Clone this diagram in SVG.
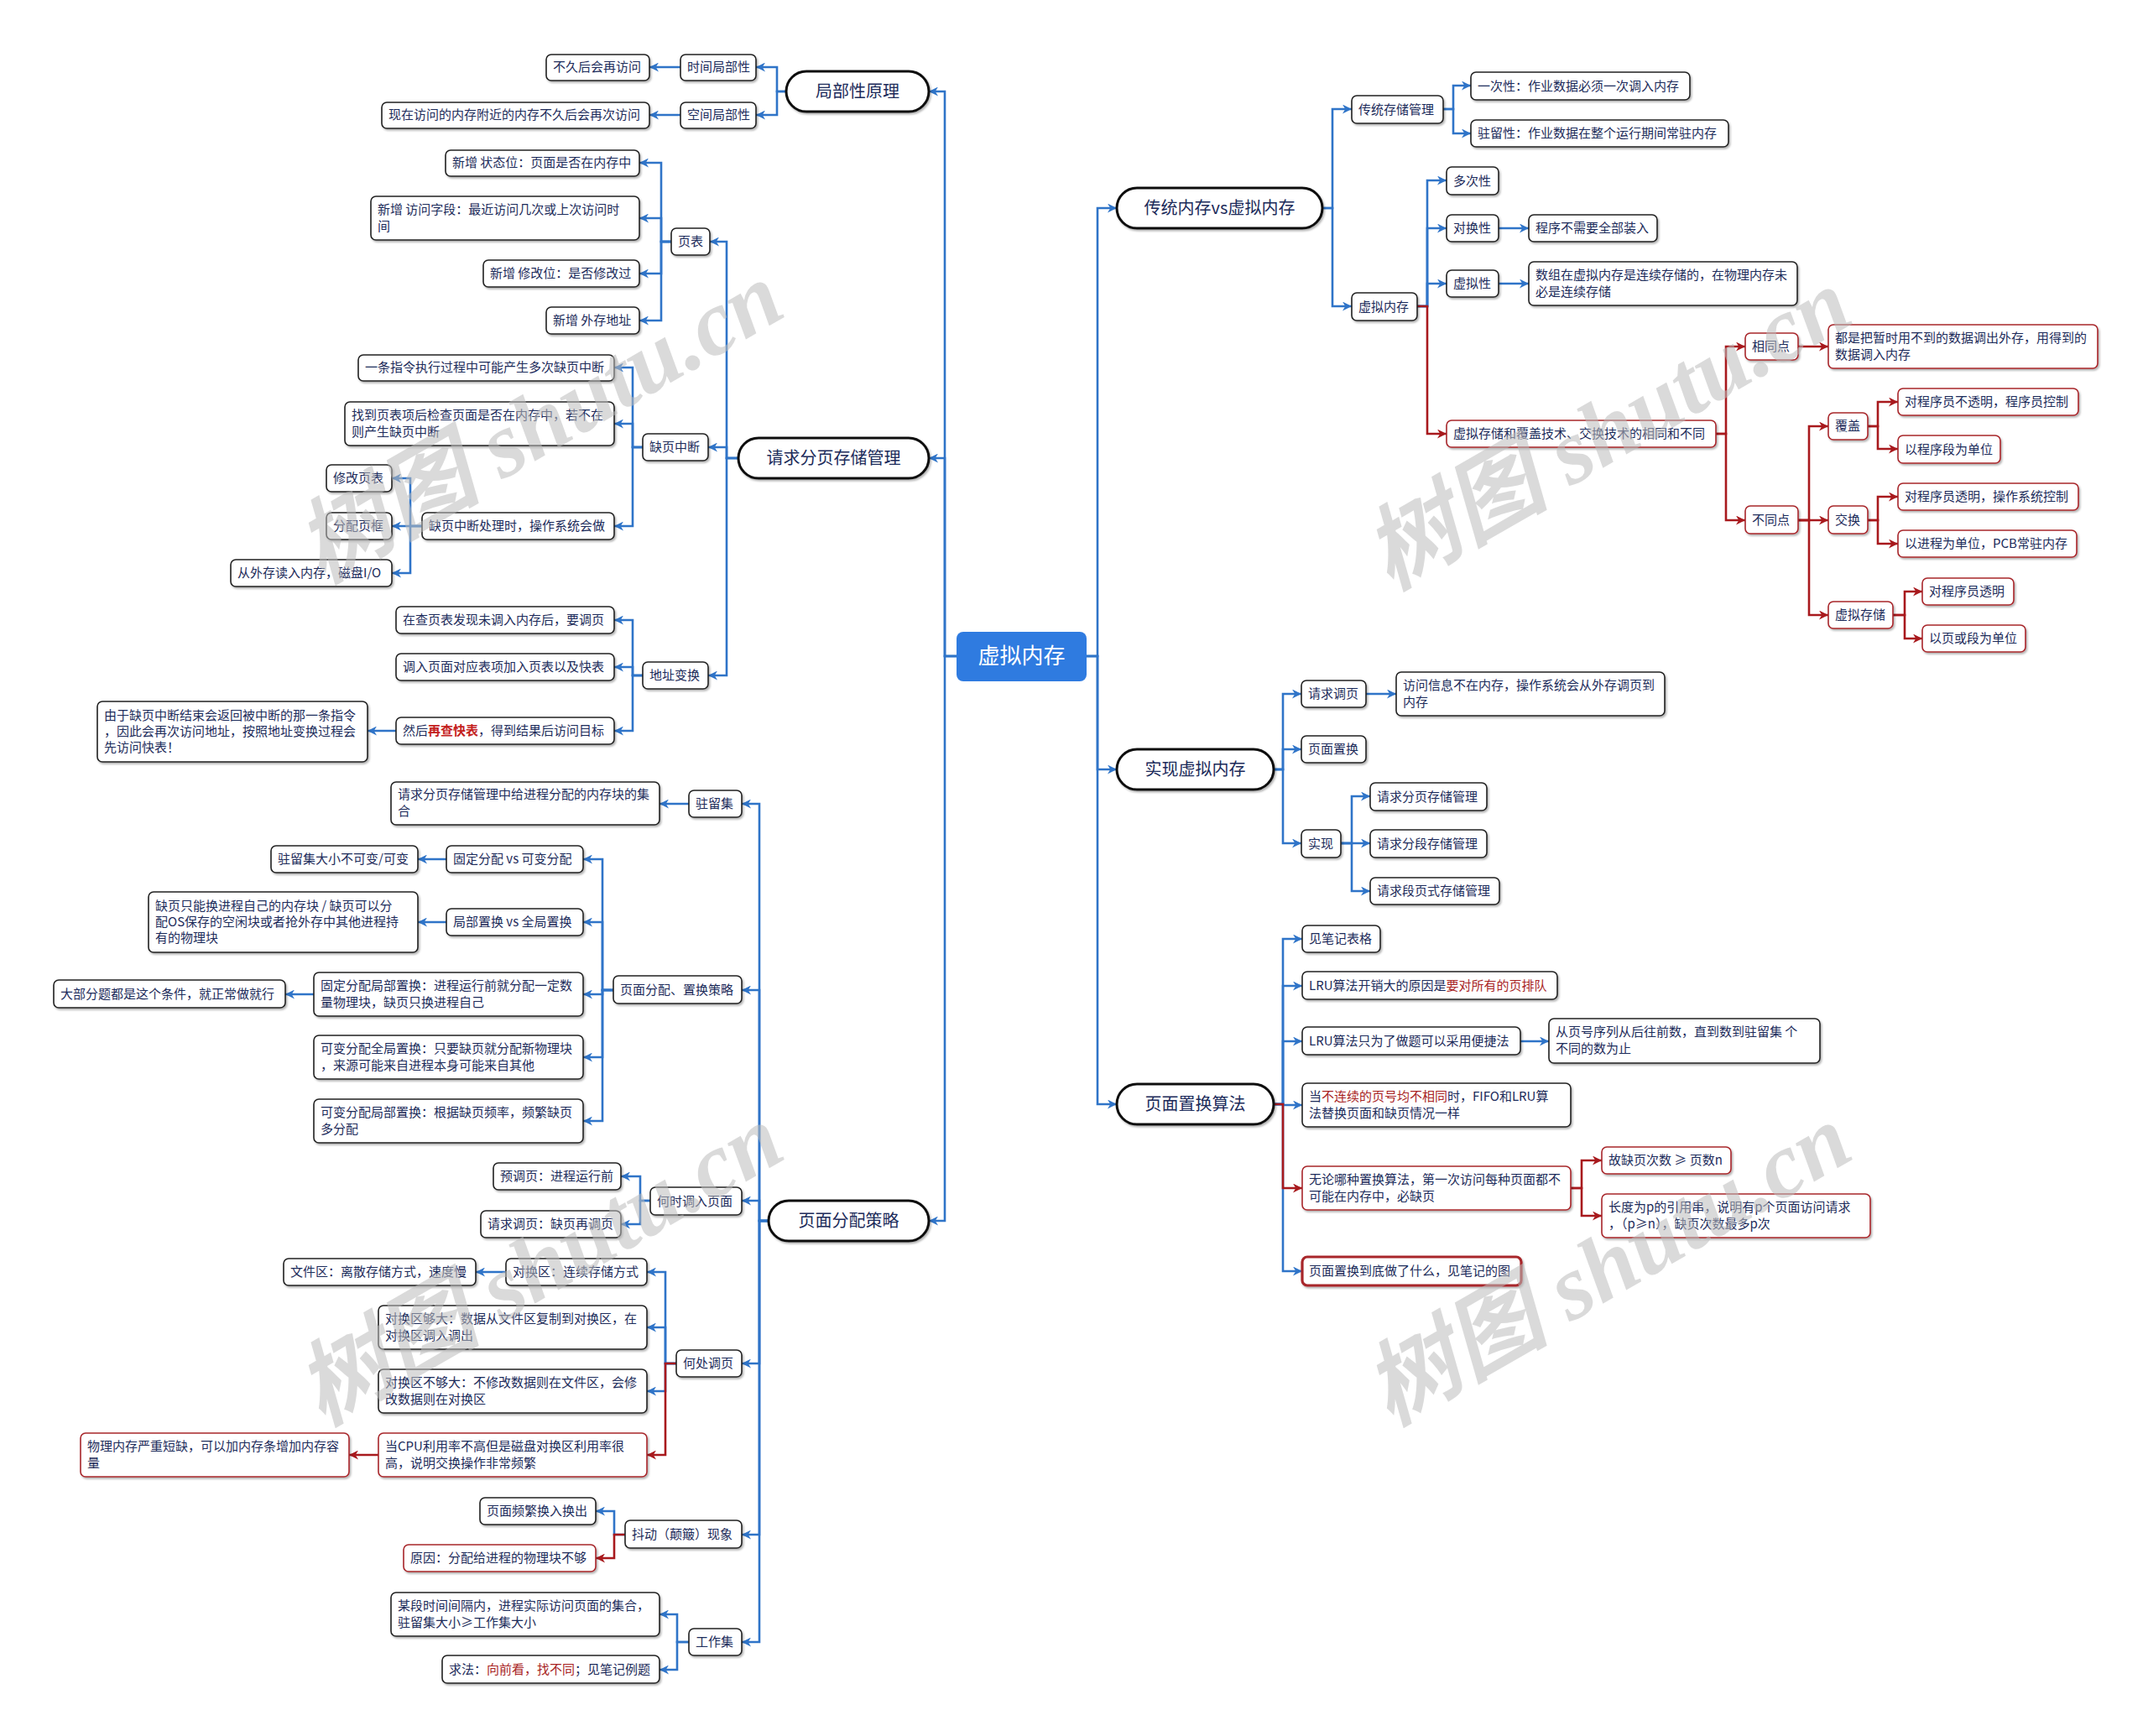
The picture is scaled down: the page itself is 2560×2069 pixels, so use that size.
<svg xmlns="http://www.w3.org/2000/svg" width="2560" height="2069" viewBox="0 0 2560 2069">
<style>
.n{fill:#fff;stroke:#222;stroke-width:1.6}
.r{fill:#fff;stroke:#a8262a;stroke-width:1.6}
.rt{fill:#fff;stroke:#a8262a;stroke-width:3.2}
.p{fill:#fff;stroke:#111;stroke-width:3}
.t{font-family:"Noto Sans CJK SC","Noto Sans",sans-serif;font-size:15px;fill:#1c2b5a}
.pt{font-family:"Noto Sans CJK SC","Noto Sans",sans-serif;font-size:20px;fill:#1c2b5a;text-anchor:middle}
.red{fill:#a82424}
.redb{fill:#c41e1e;font-weight:bold}
.c{fill:none;stroke:#2f74c8;stroke-width:2.6}
.cr{fill:none;stroke:#a8191d;stroke-width:2.6}
.wm{font-family:"Liberation Serif","Noto Sans CJK SC",serif;font-size:110px;font-style:italic;font-weight:bold;fill:#bdbdbd;opacity:0.55;text-anchor:middle}
</style>
<defs>
<filter id="sh" x="-10%" y="-20%" width="120%" height="150%"><feDropShadow dx="1.5" dy="2" stdDeviation="1" flood-color="#000" flood-opacity="0.3"/></filter>
<marker id="ab" viewBox="0 0 10 10" refX="10" refY="5" markerWidth="11" markerHeight="11" markerUnits="userSpaceOnUse" orient="auto"><path d="M0,0 L10,5 L0,10 L3,5 z" fill="#2f74c8"/></marker>
<marker id="ar" viewBox="0 0 10 10" refX="10" refY="5" markerWidth="11" markerHeight="11" markerUnits="userSpaceOnUse" orient="auto"><path d="M0,0 L10,5 L0,10 L3,5 z" fill="#a8191d"/></marker>
</defs>
<rect width="2560" height="2069" fill="#fff"/>

<g id="connectors">
<g class="c" marker-end="url(#ab)">
<path d="M1140,782 H1126 V109 H1107"/>
<path d="M1140,782 H1126 V546 H1107"/>
<path d="M1140,782 H1126 V1455 H1107"/>
<path d="M1295,782 H1308 V248 H1331"/>
<path d="M1295,782 H1308 V917 H1331"/>
<path d="M1295,782 H1308 V1316 H1331"/>
<path d="M937,109 H926 V80 H901"/>
<path d="M937,109 H926 V137 H901"/>
<path d="M811,80 H774"/>
<path d="M811,137 H774"/>
<path d="M880,546 H866 V288 H846"/>
<path d="M880,546 H866 V533 H844"/>
<path d="M880,546 H866 V805 H844"/>
<path d="M800,288 H788 V194 H762"/>
<path d="M800,288 H788 V260 H762"/>
<path d="M800,288 H788 V326 H762"/>
<path d="M800,288 H788 V382 H762"/>
<path d="M766,533 H754 V438 H732"/>
<path d="M766,533 H754 V505 H732"/>
<path d="M766,533 H754 V627 H732"/>
<path d="M503,627 H489 V570 H467"/>
<path d="M503,627 H489 V627 H467"/>
<path d="M503,627 H489 V683 H467"/>
<path d="M766,805 H754 V739 H732"/>
<path d="M766,805 H754 V795 H732"/>
<path d="M766,805 H754 V871 H732"/>
<path d="M472,871 H438"/>
<path d="M916,1455 H905 V958 H884"/>
<path d="M916,1455 H905 V1180 H884"/>
<path d="M916,1455 H905 V1431 H884"/>
<path d="M916,1455 H905 V1625 H884"/>
<path d="M916,1455 H905 V1829 H884"/>
<path d="M916,1455 H905 V1957 H884"/>
<path d="M821,958 H786"/>
<path d="M731,1180 H718 V1024 H695"/>
<path d="M731,1180 H718 V1099 H695"/>
<path d="M731,1180 H718 V1185 H695"/>
<path d="M731,1180 H718 V1260 H695"/>
<path d="M731,1180 H718 V1336 H695"/>
<path d="M532,1024 H498"/>
<path d="M532,1099 H498"/>
<path d="M374,1185 H340"/>
<path d="M775,1431 H763 V1402 H740"/>
<path d="M775,1431 H763 V1459 H740"/>
<path d="M806,1625 H793 V1516 H771"/>
<path d="M806,1625 H793 V1582 H771"/>
<path d="M806,1625 H793 V1658 H771"/>
<path d="M603,1516 H567"/>
<path d="M745,1829 H732 V1801 H710"/>
<path d="M821,1957 H807 V1924 H786"/>
<path d="M821,1957 H807 V1990 H786"/>
<path d="M1576,248 H1588 V130 H1611"/>
<path d="M1576,248 H1588 V365 H1611"/>
<path d="M1720,130 H1732 V102 H1753"/>
<path d="M1720,130 H1732 V159 H1753"/>
<path d="M1689,365 H1701 V215 H1724"/>
<path d="M1689,365 H1701 V272 H1724"/>
<path d="M1689,365 H1701 V338 H1724"/>
<path d="M1786,272 H1822"/>
<path d="M1786,338 H1822"/>
<path d="M1518,917 H1529 V827 H1551"/>
<path d="M1518,917 H1529 V893 H1551"/>
<path d="M1518,917 H1529 V1005 H1551"/>
<path d="M1628,827 H1664"/>
<path d="M1598,1005 H1611 V949 H1633"/>
<path d="M1598,1005 H1611 V1005 H1633"/>
<path d="M1598,1005 H1611 V1062 H1633"/>
<path d="M1518,1316 H1529 V1119 H1552"/>
<path d="M1518,1316 H1529 V1175 H1552"/>
<path d="M1518,1316 H1529 V1241 H1552"/>
<path d="M1518,1316 H1529 V1317 H1552"/>
<path d="M1518,1316 H1529 V1515 H1552"/>
<path d="M1812,1241 H1846"/>
</g>
<g class="cr" marker-end="url(#ar)">
<path d="M806,1625 H793 V1734 H771"/>
<path d="M451,1734 H416"/>
<path d="M745,1829 H732 V1857 H710"/>
<path d="M1689,365 H1701 V517 H1724"/>
<path d="M2045,517 H2057 V413 H2080"/>
<path d="M2045,517 H2057 V620 H2080"/>
<path d="M2143,413 H2179"/>
<path d="M2143,620 H2156 V508 H2179"/>
<path d="M2143,620 H2156 V620 H2179"/>
<path d="M2143,620 H2156 V733 H2179"/>
<path d="M2226,508 H2238 V479 H2262"/>
<path d="M2226,508 H2238 V535 H2262"/>
<path d="M2226,620 H2238 V592 H2262"/>
<path d="M2226,620 H2238 V648 H2262"/>
<path d="M2256,733 H2270 V705 H2291"/>
<path d="M2256,733 H2270 V761 H2291"/>
<path d="M1518,1316 H1529 V1416 H1552"/>
<path d="M1872,1416 H1885 V1383 H1909"/>
<path d="M1872,1416 H1885 V1449 H1909"/>
</g>
</g>

<g id="n-root"><rect x="1140" y="753" width="155" height="59" rx="8" fill="#2f7be0"/><text x="1217.5" y="791" style="font-family:'Noto Sans CJK SC',sans-serif;font-size:26px;fill:#fff;text-anchor:middle">虚拟内存</text></g>

<g id="n-jbx"><rect class="p" x="937" y="85" width="170" height="48" rx="24" filter="url(#sh)"/><text class="pt" x="1022" y="116">局部性原理</text></g>
<g id="n-qqfy"><rect class="p" x="880" y="522" width="227" height="48" rx="24" filter="url(#sh)"/><text class="pt" x="993.5" y="553">请求分页存储管理</text></g>
<g id="n-ymfp"><rect class="p" x="916" y="1431" width="191" height="48" rx="24" filter="url(#sh)"/><text class="pt" x="1011.5" y="1462">页面分配策略</text></g>
<g id="n-ctnc"><rect class="p" x="1331" y="224" width="245" height="48" rx="24" filter="url(#sh)"/><text class="pt" x="1453.5" y="255">传统内存vs虚拟内存</text></g>
<g id="n-sxxn"><rect class="p" x="1331" y="893" width="187" height="48" rx="24" filter="url(#sh)"/><text class="pt" x="1424.5" y="924">实现虚拟内存</text></g>
<g id="n-ymzh"><rect class="p" x="1331" y="1292" width="187" height="48" rx="24" filter="url(#sh)"/><text class="pt" x="1424.5" y="1323">页面置换算法</text></g>

<g id="n-sjjb"><rect class="n" x="811" y="65" width="90" height="31" rx="6" filter="url(#sh)"/><text class="t" x="819" y="85">时间局部性</text></g>
<g id="n-kjjb"><rect class="n" x="811" y="122" width="90" height="31" rx="6" filter="url(#sh)"/><text class="t" x="819" y="142">空间局部性</text></g>
<g id="n-bjh"><rect class="n" x="651" y="65" width="123" height="31" rx="6" filter="url(#sh)"/><text class="t" x="659" y="85">不久后会再访问</text></g>
<g id="n-xzfw"><rect class="n" x="455" y="122" width="319" height="31" rx="6" filter="url(#sh)"/><text class="t" x="463" y="142">现在访问的内存附近的内存不久后会再次访问</text></g>

<g id="n-yb"><rect class="n" x="800" y="272" width="46" height="32" rx="6" filter="url(#sh)"/><text class="t" x="808" y="293">页表</text></g>
<g id="n-yb1"><rect class="n" x="531" y="179" width="231" height="31" rx="6" filter="url(#sh)"/><text class="t" x="539" y="199">新增 状态位：页面是否在内存中</text></g>
<g id="n-yb2"><rect class="n" x="442" y="234" width="320" height="52" rx="6" filter="url(#sh)"/><text class="t" x="450" y="255">新增 访问字段：最近访问几次或上次访问时</text><text class="t" x="450" y="275">间</text></g>
<g id="n-yb3"><rect class="n" x="576" y="310" width="186" height="32" rx="6" filter="url(#sh)"/><text class="t" x="584" y="331">新增 修改位：是否修改过</text></g>
<g id="n-yb4"><rect class="n" x="651" y="366" width="111" height="32" rx="6" filter="url(#sh)"/><text class="t" x="659" y="387">新增 外存地址</text></g>

<g id="n-qyzd"><rect class="n" x="766" y="517" width="78" height="32" rx="6" filter="url(#sh)"/><text class="t" x="774" y="538">缺页中断</text></g>
<g id="n-qy1"><rect class="n" x="427" y="423" width="305" height="31" rx="6" filter="url(#sh)"/><text class="t" x="435" y="443">一条指令执行过程中可能产生多次缺页中断</text></g>
<g id="n-qy2"><rect class="n" x="411" y="479" width="321" height="52" rx="6" filter="url(#sh)"/><text class="t" x="419" y="500">找到页表项后检查页面是否在内存中，若不在</text><text class="t" x="419" y="520">则产生缺页中断</text></g>
<g id="n-qy3"><rect class="n" x="503" y="611" width="229" height="32" rx="6" filter="url(#sh)"/><text class="t" x="511" y="632">缺页中断处理时，操作系统会做</text></g>
<g id="n-xgyb"><rect class="n" x="389" y="554" width="78" height="32" rx="6" filter="url(#sh)"/><text class="t" x="397" y="575">修改页表</text></g>
<g id="n-fpyk"><rect class="n" x="389" y="611" width="78" height="32" rx="6" filter="url(#sh)"/><text class="t" x="397" y="632">分配页框</text></g>
<g id="n-cwcd"><rect class="n" x="275" y="667" width="192" height="32" rx="6" filter="url(#sh)"/><text class="t" x="283" y="688">从外存读入内存，磁盘I/O</text></g>

<g id="n-dzbh"><rect class="n" x="766" y="789" width="78" height="32" rx="6" filter="url(#sh)"/><text class="t" x="774" y="810">地址变换</text></g>
<g id="n-dz1"><rect class="n" x="472" y="723" width="260" height="32" rx="6" filter="url(#sh)"/><text class="t" x="480" y="744">在查页表发现未调入内存后，要调页</text></g>
<g id="n-dz2"><rect class="n" x="472" y="779" width="260" height="32" rx="6" filter="url(#sh)"/><text class="t" x="480" y="800">调入页面对应表项加入页表以及快表</text></g>
<g id="n-dz3"><rect class="n" x="472" y="855" width="260" height="32" rx="6" filter="url(#sh)"/><text class="t" x="480" y="876">然后<tspan class="redb">再查快表</tspan>，得到结果后访问目标</text></g>
<g id="n-dz4"><rect class="n" x="116" y="836" width="322" height="72" rx="6" filter="url(#sh)"/><text class="t" x="124" y="858">由于缺页中断结束会返回被中断的那一条指令</text><text class="t" x="124" y="877">，因此会再次访问地址，按照地址变换过程会</text><text class="t" x="124" y="896">先访问快表！</text></g>

<g id="n-zlj"><rect class="n" x="821" y="942" width="63" height="32" rx="6" filter="url(#sh)"/><text class="t" x="829" y="963">驻留集</text></g>
<g id="n-zlj1"><rect class="n" x="466" y="932" width="320" height="51" rx="6" filter="url(#sh)"/><text class="t" x="474" y="952">请求分页存储管理中给进程分配的内存块的集</text><text class="t" x="474" y="972">合</text></g>

<g id="n-fpzh"><rect class="n" x="731" y="1163" width="153" height="33" rx="6" filter="url(#sh)"/><text class="t" x="739" y="1185">页面分配、置换策略</text></g>
<g id="n-gdkb"><rect class="n" x="532" y="1008" width="163" height="32" rx="6" filter="url(#sh)"/><text class="t" x="540" y="1029">固定分配 vs 可变分配</text></g>
<g id="n-zljdx"><rect class="n" x="323" y="1008" width="175" height="32" rx="6" filter="url(#sh)"/><text class="t" x="331" y="1029">驻留集大小不可变/可变</text></g>
<g id="n-jbqj"><rect class="n" x="532" y="1083" width="163" height="32" rx="6" filter="url(#sh)"/><text class="t" x="540" y="1104">局部置换 vs 全局置换</text></g>
<g id="n-qyzn"><rect class="n" x="177" y="1063" width="321" height="72" rx="6" filter="url(#sh)"/><text class="t" x="185" y="1085">缺页只能换进程自己的内存块 / 缺页可以分</text><text class="t" x="185" y="1104">配OS保存的空闲块或者抢外存中其他进程持</text><text class="t" x="185" y="1123">有的物理块</text></g>
<g id="n-gdjb"><rect class="n" x="374" y="1159" width="321" height="52" rx="6" filter="url(#sh)"/><text class="t" x="382" y="1180">固定分配局部置换：进程运行前就分配一定数</text><text class="t" x="382" y="1200">量物理块，缺页只换进程自己</text></g>
<g id="n-dbft"><rect class="n" x="64" y="1168" width="276" height="33" rx="6" filter="url(#sh)"/><text class="t" x="72" y="1190">大部分题都是这个条件，就正常做就行</text></g>
<g id="n-kbqj"><rect class="n" x="374" y="1234" width="321" height="52" rx="6" filter="url(#sh)"/><text class="t" x="382" y="1255">可变分配全局置换：只要缺页就分配新物理块</text><text class="t" x="382" y="1275">，来源可能来自进程本身可能来自其他</text></g>
<g id="n-kbjb"><rect class="n" x="374" y="1310" width="321" height="52" rx="6" filter="url(#sh)"/><text class="t" x="382" y="1331">可变分配局部置换：根据缺页频率，频繁缺页</text><text class="t" x="382" y="1351">多分配</text></g>

<g id="n-hsdr"><rect class="n" x="775" y="1415" width="109" height="33" rx="6" filter="url(#sh)"/><text class="t" x="783" y="1437">何时调入页面</text></g>
<g id="n-ydy"><rect class="n" x="588" y="1386" width="152" height="32" rx="6" filter="url(#sh)"/><text class="t" x="596" y="1407">预调页：进程运行前</text></g>
<g id="n-qqdy"><rect class="n" x="573" y="1443" width="167" height="32" rx="6" filter="url(#sh)"/><text class="t" x="581" y="1464">请求调页：缺页再调页</text></g>

<g id="n-hcdy"><rect class="n" x="806" y="1609" width="78" height="32" rx="6" filter="url(#sh)"/><text class="t" x="814" y="1630">何处调页</text></g>
<g id="n-dhq"><rect class="n" x="603" y="1500" width="168" height="32" rx="6" filter="url(#sh)"/><text class="t" x="611" y="1521">对换区：连续存储方式</text></g>
<g id="n-wjq"><rect class="n" x="338" y="1500" width="229" height="32" rx="6" filter="url(#sh)"/><text class="t" x="346" y="1521">文件区：离散存储方式，速度慢</text></g>
<g id="n-dhgd"><rect class="n" x="451" y="1556" width="320" height="52" rx="6" filter="url(#sh)"/><text class="t" x="459" y="1577">对换区够大：数据从文件区复制到对换区，在</text><text class="t" x="459" y="1597">对换区调入调出</text></g>
<g id="n-dhbgd"><rect class="n" x="451" y="1632" width="320" height="52" rx="6" filter="url(#sh)"/><text class="t" x="459" y="1653">对换区不够大：不修改数据则在文件区，会修</text><text class="t" x="459" y="1673">改数据则在对换区</text></g>
<g id="n-cpu"><rect class="r" x="451" y="1708" width="320" height="52" rx="6" filter="url(#sh)"/><text class="t" x="459" y="1729">当CPU利用率不高但是磁盘对换区利用率很</text><text class="t" x="459" y="1749">高，说明交换操作非常频繁</text></g>
<g id="n-wlnc"><rect class="r" x="96" y="1708" width="320" height="52" rx="6" filter="url(#sh)"/><text class="t" x="104" y="1729">物理内存严重短缺，可以加内存条增加内存容</text><text class="t" x="104" y="1749">量</text></g>

<g id="n-dd"><rect class="n" x="745" y="1812" width="139" height="33" rx="6" filter="url(#sh)"/><text class="t" x="753" y="1834">抖动（颠簸）现象</text></g>
<g id="n-ympf"><rect class="n" x="572" y="1785" width="138" height="32" rx="6" filter="url(#sh)"/><text class="t" x="580" y="1806">页面频繁换入换出</text></g>
<g id="n-yy"><rect class="r" x="481" y="1841" width="229" height="32" rx="6" filter="url(#sh)"/><text class="t" x="489" y="1862">原因：分配给进程的物理块不够</text></g>

<g id="n-gzj"><rect class="n" x="821" y="1941" width="63" height="32" rx="6" filter="url(#sh)"/><text class="t" x="829" y="1962">工作集</text></g>
<g id="n-gzj1"><rect class="n" x="466" y="1898" width="320" height="52" rx="6" filter="url(#sh)"/><text class="t" x="474" y="1919">某段时间间隔内，进程实际访问页面的集合，</text><text class="t" x="474" y="1939">驻留集大小≥工作集大小</text></g>
<g id="n-gzj2"><rect class="n" x="527" y="1973" width="259" height="33" rx="6" filter="url(#sh)"/><text class="t" x="535" y="1995">求法：<tspan class="red">向前看，找不同</tspan>；见笔记例题</text></g>

<g id="n-ctcc"><rect class="n" x="1611" y="114" width="109" height="33" rx="6" filter="url(#sh)"/><text class="t" x="1619" y="136">传统存储管理</text></g>
<g id="n-ycx"><rect class="n" x="1753" y="86" width="261" height="33" rx="6" filter="url(#sh)"/><text class="t" x="1761" y="108">一次性：作业数据必须一次调入内存</text></g>
<g id="n-zlx"><rect class="n" x="1753" y="143" width="307" height="32" rx="6" filter="url(#sh)"/><text class="t" x="1761" y="164">驻留性：作业数据在整个运行期间常驻内存</text></g>
<g id="n-xnnc"><rect class="n" x="1611" y="349" width="78" height="33" rx="6" filter="url(#sh)"/><text class="t" x="1619" y="371">虚拟内存</text></g>
<g id="n-dcx"><rect class="n" x="1724" y="199" width="62" height="33" rx="6" filter="url(#sh)"/><text class="t" x="1732" y="221">多次性</text></g>
<g id="n-dhx"><rect class="n" x="1724" y="256" width="62" height="32" rx="6" filter="url(#sh)"/><text class="t" x="1732" y="277">对换性</text></g>
<g id="n-cxbx"><rect class="n" x="1822" y="256" width="153" height="32" rx="6" filter="url(#sh)"/><text class="t" x="1830" y="277">程序不需要全部装入</text></g>
<g id="n-xnx"><rect class="n" x="1724" y="322" width="62" height="32" rx="6" filter="url(#sh)"/><text class="t" x="1732" y="343">虚拟性</text></g>
<g id="n-szxn"><rect class="n" x="1822" y="312" width="320" height="52" rx="6" filter="url(#sh)"/><text class="t" x="1830" y="333">数组在虚拟内存是连续存储的，在物理内存未</text><text class="t" x="1830" y="353">必是连续存储</text></g>
<g id="n-xncc"><rect class="r" x="1724" y="501" width="321" height="32" rx="6" filter="url(#sh)"/><text class="t" x="1732" y="522">虚拟存储和覆盖技术、交换技术的相同和不同</text></g>
<g id="n-xtd"><rect class="r" x="2080" y="397" width="63" height="32" rx="6" filter="url(#sh)"/><text class="t" x="2088" y="418">相同点</text></g>
<g id="n-dsb"><rect class="r" x="2179" y="387" width="321" height="52" rx="6" filter="url(#sh)"/><text class="t" x="2187" y="408">都是把暂时用不到的数据调出外存，用得到的</text><text class="t" x="2187" y="428">数据调入内存</text></g>
<g id="n-btd"><rect class="r" x="2080" y="603" width="63" height="33" rx="6" filter="url(#sh)"/><text class="t" x="2088" y="625">不同点</text></g>
<g id="n-fg"><rect class="r" x="2179" y="492" width="47" height="32" rx="6" filter="url(#sh)"/><text class="t" x="2187" y="513">覆盖</text></g>
<g id="n-fg1"><rect class="r" x="2262" y="463" width="215" height="32" rx="6" filter="url(#sh)"/><text class="t" x="2270" y="484">对程序员不透明，程序员控制</text></g>
<g id="n-fg2"><rect class="r" x="2262" y="519" width="122" height="33" rx="6" filter="url(#sh)"/><text class="t" x="2270" y="541">以程序段为单位</text></g>
<g id="n-jh"><rect class="r" x="2179" y="603" width="47" height="33" rx="6" filter="url(#sh)"/><text class="t" x="2187" y="625">交换</text></g>
<g id="n-jh1"><rect class="r" x="2262" y="576" width="215" height="32" rx="6" filter="url(#sh)"/><text class="t" x="2270" y="597">对程序员透明，操作系统控制</text></g>
<g id="n-jh2"><rect class="r" x="2262" y="632" width="213" height="32" rx="6" filter="url(#sh)"/><text class="t" x="2270" y="653">以进程为单位，PCB常驻内存</text></g>
<g id="n-xncc2"><rect class="r" x="2179" y="717" width="77" height="32" rx="6" filter="url(#sh)"/><text class="t" x="2187" y="738">虚拟存储</text></g>
<g id="n-xc1"><rect class="r" x="2291" y="689" width="109" height="32" rx="6" filter="url(#sh)"/><text class="t" x="2299" y="710">对程序员透明</text></g>
<g id="n-xc2"><rect class="r" x="2291" y="745" width="123" height="32" rx="6" filter="url(#sh)"/><text class="t" x="2299" y="766">以页或段为单位</text></g>

<g id="n-qqdy2"><rect class="n" x="1551" y="811" width="77" height="32" rx="6" filter="url(#sh)"/><text class="t" x="1559" y="832">请求调页</text></g>
<g id="n-fwxx"><rect class="n" x="1664" y="801" width="320" height="52" rx="6" filter="url(#sh)"/><text class="t" x="1672" y="822">访问信息不在内存，操作系统会从外存调页到</text><text class="t" x="1672" y="842">内存</text></g>
<g id="n-ymzh2"><rect class="n" x="1551" y="877" width="77" height="32" rx="6" filter="url(#sh)"/><text class="t" x="1559" y="898">页面置换</text></g>
<g id="n-sx"><rect class="n" x="1551" y="989" width="47" height="33" rx="6" filter="url(#sh)"/><text class="t" x="1559" y="1011">实现</text></g>
<g id="n-sx1"><rect class="n" x="1633" y="933" width="139" height="33" rx="6" filter="url(#sh)"/><text class="t" x="1641" y="955">请求分页存储管理</text></g>
<g id="n-sx2"><rect class="n" x="1633" y="989" width="139" height="33" rx="6" filter="url(#sh)"/><text class="t" x="1641" y="1011">请求分段存储管理</text></g>
<g id="n-sx3"><rect class="n" x="1633" y="1046" width="154" height="32" rx="6" filter="url(#sh)"/><text class="t" x="1641" y="1067">请求段页式存储管理</text></g>

<g id="n-jbjb"><rect class="n" x="1552" y="1103" width="93" height="32" rx="6" filter="url(#sh)"/><text class="t" x="1560" y="1124">见笔记表格</text></g>
<g id="n-lru1"><rect class="n" x="1552" y="1158" width="304" height="33" rx="6" filter="url(#sh)"/><text class="t" x="1560" y="1180">LRU算法开销大的原因是<tspan class="red">要对所有的页排队</tspan></text></g>
<g id="n-lru2"><rect class="n" x="1552" y="1224" width="260" height="33" rx="6" filter="url(#sh)"/><text class="t" x="1560" y="1246">LRU算法只为了做题可以采用便捷法</text></g>
<g id="n-lru3"><rect class="n" x="1846" y="1214" width="323" height="53" rx="6" filter="url(#sh)"/><text class="t" x="1854" y="1235">从页号序列从后往前数，直到数到驻留集 个</text><text class="t" x="1854" y="1255">不同的数为止</text></g>
<g id="n-fifo"><rect class="n" x="1552" y="1291" width="320" height="52" rx="6" filter="url(#sh)"/><text class="t" x="1560" y="1312">当<tspan class="red">不连续的页号均不相同</tspan>时，FIFO和LRU算</text><text class="t" x="1560" y="1332">法替换页面和缺页情况一样</text></g>
<g id="n-wl"><rect class="r" x="1552" y="1390" width="320" height="52" rx="6" filter="url(#sh)"/><text class="t" x="1560" y="1411">无论哪种置换算法，第一次访问每种页面都不</text><text class="t" x="1560" y="1431">可能在内存中，必缺页</text></g>
<g id="n-gqy"><rect class="r" x="1909" y="1367" width="154" height="32" rx="6" filter="url(#sh)"/><text class="t" x="1917" y="1388">故缺页次数 ≥ 页数n</text></g>
<g id="n-cdp"><rect class="r" x="1909" y="1423" width="320" height="52" rx="6" filter="url(#sh)"/><text class="t" x="1917" y="1444">长度为p的引用串，说明有p个页面访问请求</text><text class="t" x="1917" y="1464">，（p≥n），缺页次数最多p次</text></g>
<g id="n-ddzl"><rect class="rt" x="1552" y="1498" width="261" height="34" rx="6" filter="url(#sh)"/><text class="t" x="1560" y="1520">页面置换到底做了什么，见笔记的图</text></g>

<g id="watermarks">
<text class="wm" x="645" y="540" transform="rotate(-30 645 506)">树图 shutu.cn</text>
<text class="wm" x="645" y="1544" transform="rotate(-30 645 1510)">树图 shutu.cn</text>
<text class="wm" x="1918" y="548" transform="rotate(-30 1918 514)">树图 shutu.cn</text>
<text class="wm" x="1918" y="1544" transform="rotate(-30 1918 1510)">树图 shutu.cn</text>
</g>
</svg>
